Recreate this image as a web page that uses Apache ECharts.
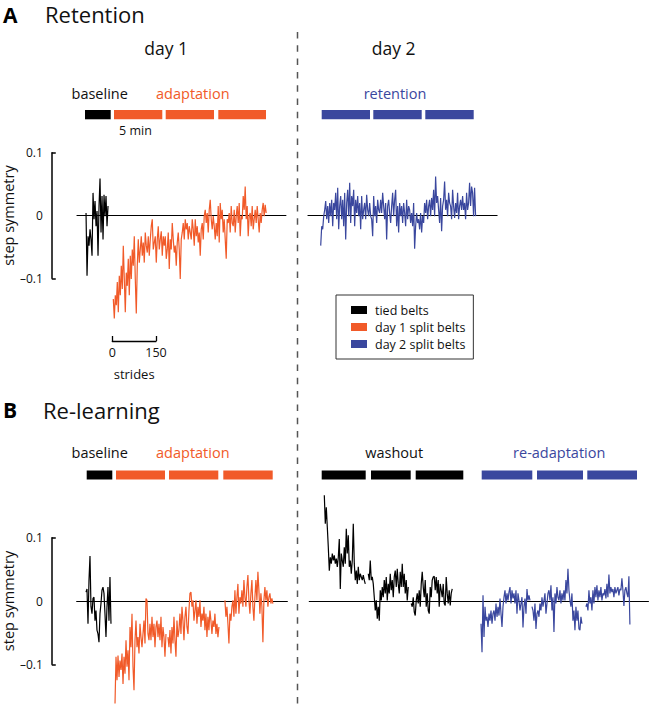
<!DOCTYPE html>
<html><head><meta charset="utf-8">
<script src="https://cdn.jsdelivr.net/npm/echarts@6/dist/echarts.min.js"></script>
<style>html,body{margin:0;padding:0;background:#fff}#c{width:650px;height:706px}</style>
</head><body><div id="c"></div>
<script>
// ---------------- DATA (step symmetry, one reading per ~3.43 strides) ----------------
const seriesNames = ['tied belts', 'day 1 split belts', 'day 2 split belts'];
const yTickLabels = [-0.1, 0, 0.1];
const strideBarTicks = [0, 150];

// Panel A, day 1
const aBaseline = [0.004,-0.096,-0.033,-0.048,-0.022,-0.038,-0.064,0.036,-0.006,0.023,-0.017,0.007,-0.064,0.015,0.059,-0.027,0.031,-0.038,0.033,-0.001,0.031,-0.017,0.015];
const aAdaptation = [
-0.133,-0.164,-0.127,-0.143,-0.106,-0.154,-0.096,-0.127,-0.080,-0.117,
-0.048,-0.101,-0.154,-0.091,-0.112,-0.069,-0.127,-0.064,-0.101,-0.054,
-0.080,-0.033,-0.101,-0.156,-0.080,-0.038,-0.075,-0.054,-0.033,-0.064,
-0.043,-0.075,-0.027,-0.048,-0.059,-0.033,-0.064,-0.038,-0.017,-0.006,
-0.054,-0.043,-0.033,-0.075,-0.038,-0.017,-0.054,-0.038,-0.025,-0.064,
-0.033,-0.048,-0.033,-0.069,-0.054,-0.027,-0.085,-0.038,-0.054,-0.012,
-0.038,-0.059,-0.048,-0.080,-0.043,-0.027,-0.054,-0.101,-0.038,-0.027,
-0.012,-0.038,-0.006,-0.022,-0.012,-0.038,-0.017,-0.027,-0.038,-0.006,
-0.022,-0.048,-0.006,-0.033,-0.017,-0.043,-0.027,-0.064,-0.022,-0.012,
-0.038,-0.001,0.009,-0.012,0.004,-0.027,0.009,0.025,-0.006,-0.022,
-0.001,-0.017,-0.038,-0.012,-0.033,0.015,-0.043,0.020,-0.006,0.009,
-0.027,-0.006,-0.038,-0.069,-0.006,-0.012,0.004,-0.027,0.015,-0.012,
-0.017,0.009,-0.027,-0.001,0.015,-0.012,0.020,-0.033,-0.001,-0.006,
0.031,0.009,0.046,-0.006,0.015,-0.033,-0.001,0.004,-0.017,0.015,
-0.022,-0.006,0.009,-0.012,0.015,-0.006,-0.027,0.004,-0.012,0.009,
0.020,-0.001,0.017,0.004];
// Panel A, day 2
const aRetention = [
-0.048,-0.017,-0.022,-0.001,0.009,0.023,-0.006,0.015,-0.012,0.020,
-0.001,0.025,-0.017,0.020,0.009,0.036,-0.006,0.044,-0.022,0.015,
0.031,-0.006,0.025,-0.017,0.036,-0.038,0.020,0.041,-0.001,0.052,
-0.012,0.031,0.015,0.041,-0.017,0.025,0.004,0.031,-0.001,0.020,
-0.022,0.031,-0.006,0.009,0.020,-0.006,0.033,0.009,-0.001,0.020,
-0.001,-0.006,-0.033,0.031,-0.001,0.015,-0.012,0.025,0.009,0.004,
0.025,0.004,0.036,0.015,-0.006,0.020,-0.038,0.015,0.025,0.004,
-0.012,0.015,0.036,-0.001,0.025,0.041,-0.017,0.015,-0.027,0.020,
-0.001,0.015,-0.012,0.020,0.004,-0.017,0.025,-0.006,0.015,0.009,
-0.012,0.004,-0.017,0.020,-0.053,-0.017,0.004,-0.012,-0.006,-0.022,
0.004,-0.027,-0.001,-0.012,0.020,0.004,0.025,-0.006,0.015,0.025,
-0.001,0.028,0.009,0.041,-0.001,0.062,0.020,0.031,0.009,-0.012,
0.028,-0.025,0.015,0.025,0.054,0.009,0.025,-0.001,0.036,0.020,
0.015,-0.006,0.041,0.015,-0.004,0.020,0.004,0.036,-0.006,0.015,
0.025,0.009,0.031,0.009,0.020,-0.006,0.036,0.009,0.020,0.052,
0.015,0.046,0.036,-0.001,0.044,-0.001];
// Panel B, day 1
const bBaseline = [0.014,0.019,-0.036,0.033,0.071,-0.009,-0.020,0.004,0.006,-0.031,-0.015,-0.046,-0.052,-0.065,-0.020,-0.004,0.017,0.022,0.012,-0.020,-0.057,-0.009,0.022,-0.031,0.038,-0.036];
const bAdaptation = [
-0.162,-0.088,-0.125,-0.086,-0.120,-0.094,-0.109,-0.083,-0.131,-0.088,
-0.115,-0.062,-0.104,-0.078,-0.125,-0.041,-0.073,-0.020,-0.104,-0.141,
-0.062,-0.031,-0.073,-0.057,-0.083,-0.036,-0.057,-0.073,-0.052,-0.031,
-0.067,0.004,0.001,-0.052,-0.062,-0.036,-0.062,-0.025,-0.057,-0.036,
-0.073,-0.041,-0.031,-0.057,-0.036,-0.062,-0.025,-0.073,-0.041,-0.057,
-0.088,-0.052,null,-0.057,-0.073,-0.046,-0.083,-0.041,-0.067,-0.025,
-0.062,-0.088,-0.031,-0.057,-0.046,-0.020,-0.052,-0.009,-0.031,-0.062,
-0.025,-0.009,-0.041,-0.052,-0.015,0.012,0.014,-0.009,0.001,-0.031,
-0.015,0.001,-0.036,-0.009,-0.025,0.001,-0.041,-0.020,-0.031,-0.009,
-0.046,-0.020,-0.057,-0.025,-0.046,-0.015,-0.031,-0.052,-0.031,-0.041,
-0.020,-0.052,-0.036,-0.057,-0.041,null,null,null,null,null,
0.001,-0.025,-0.009,-0.036,-0.067,-0.020,-0.031,-0.009,0.001,-0.025,
0.017,-0.020,0.006,0.027,-0.020,0.006,-0.004,0.017,-0.009,0.033,
0.006,-0.009,0.022,0.041,0.001,-0.020,0.012,0.033,-0.009,-0.031,
0.006,0.033,0.001,0.046,0.017,-0.020,0.012,-0.009,-0.065,0.001,
0.022,0.001,0.017,-0.009,0.006,0.012,-0.004,0.004,-0.004];
// Panel B, day 2
const bWashout = [
0.167,0.122,0.148,0.117,0.085,0.048,0.069,0.059,0.075,0.064,
0.072,0.059,0.067,0.054,0.069,0.098,0.019,0.075,0.064,0.054,
0.085,0.059,0.114,0.075,0.104,0.054,0.064,0.043,0.064,0.122,
0.059,0.033,0.048,0.027,0.054,0.033,0.043,0.038,0.033,0.041,
0.033,0.027,null,null,0.043,0.033,0.064,0.033,0.038,0.027,
0.006,-0.015,0.001,-0.028,-0.009,-0.031,0.017,0.001,0.022,0.006,
0.033,0.012,0.038,0.001,0.027,0.012,0.043,0.017,0.033,0.006,
0.038,0.048,0.022,0.051,0.027,0.012,0.046,0.022,0.059,0.022,
0.043,0.012,0.033,0.001,0.022,null,null,-0.004,-0.009,0.006,
-0.017,-0.023,0.001,0.012,-0.004,0.017,-0.009,0.027,0.046,0.022,
0.006,0.033,-0.009,0.012,-0.015,-0.020,0.022,0.006,0.033,0.038,
0.039,0.017,0.038,0.012,0.033,-0.009,0.027,0.017,0.006,0.027,
-0.004,-0.007,0.038,0.012,-0.004,0.017,-0.007,0.012,0.019];
const bReadaptation = [
-0.036,-0.081,0.009,-0.057,-0.009,-0.031,-0.025,-0.041,-0.020,-0.031,
-0.015,-0.036,-0.020,-0.015,-0.031,-0.004,-0.025,-0.009,-0.023,0.004,
-0.020,-0.041,-0.009,0.006,0.017,-0.004,0.012,0.001,0.014,0.022,
-0.004,0.017,0.004,0.012,-0.004,0.017,-0.020,0.012,0.001,-0.015,
-0.004,0.006,-0.042,-0.009,0.004,-0.020,0.019,0.001,0.009,0.001,
null,-0.009,-0.015,-0.031,-0.004,-0.044,-0.020,-0.015,-0.025,-0.004,
-0.015,0.006,-0.009,0.001,0.012,-0.020,-0.004,0.012,0.017,0.001,
0.025,-0.015,0.006,-0.049,0.012,-0.004,0.022,0.006,0.001,0.017,
-0.004,0.012,0.001,0.017,0.001,0.033,0.012,0.051,0.017,0.001,
-0.009,0.012,-0.031,-0.015,-0.046,-0.009,-0.031,-0.015,-0.044,-0.046,
-0.025,-0.036,null,null,null,-0.009,-0.004,-0.015,0.017,-0.004,
0.006,-0.015,0.017,-0.004,0.022,0.006,0.025,0.001,0.017,0.006,
0.022,0.001,0.012,0.009,0.019,0.004,0.027,0.006,0.042,0.012,
0.022,0.014,0.019,0.006,0.022,0.012,0.017,0.022,0.009,0.019,
0.017,0.036,0.017,-0.008,0.017,0.022,0.012,0.006,0.039,-0.037];
// stride at which each recorded epoch starts on its panel's stride axis
const aDay1Starts = [31, 124.6];
const aDay2Starts = [43.6];
const bDay1Starts = [31.9, 131.5];
const bDay2Starts = [51.5, 589.4];

// ---------------- LAYOUT / STYLE ----------------
const FONT = '"Open Sans", Lato, sans-serif';
const ORANGE = '#F15A29', BLUE = '#3A479E', BLACK = '#000';
const PX_PER_STRIDE = 43.7 / 150;
const SAMPLE_STRIDES = 3.43;
function pts(values, start) { return values.map((v, i) => [start + i * SAMPLE_STRIDES, v]); }

const A = {zero: 215.5, ppu: 628, min: -0.18, max: 0.1};
const B = {zero: 601, ppu: 633, min: -0.165, max: 0.175};
function gridFor(p, left, xmax) {
  return {left: left, top: p.zero - p.max * p.ppu, width: xmax * PX_PER_STRIDE,
          height: (p.max - p.min) * p.ppu, containLabel: false};
}
const panels = [
  {g: gridFor(A, 77, 717), xmax: 717, p: A},
  {g: gridFor(A, 308, 649), xmax: 649, p: A},
  {g: gridFor(B, 76.7, 723), xmax: 723, p: B},
  {g: gridFor(B, 309.3, 1164), xmax: 1164, p: B}
];

const grids = panels.map(o => o.g);
const xAxes = panels.map((o, i) => ({
  type: 'value', gridIndex: i, min: 0, max: o.xmax,
  axisLine: {show: true, onZero: true, lineStyle: {color: '#000', width: 1.2}},
  axisTick: {show: false}, axisLabel: {show: false}, splitLine: {show: false}
}));
const yAxes = panels.map((o, i) => ({
  type: 'value', gridIndex: i, min: o.p.min, max: o.p.max, show: false, splitLine: {show: false}
}));

function bracket(p, idx, gap) {
  grids.push({left: 50.5, top: p.zero - 0.1 * p.ppu, width: 10, height: 0.2 * p.ppu});
  xAxes.push({type: 'value', gridIndex: idx, show: false});
  yAxes.push({
    type: 'value', gridIndex: idx, min: -0.1, max: 0.1, interval: 0.1,
    name: 'step symmetry', nameLocation: 'middle', nameGap: gap, nameRotate: 90,
    nameTextStyle: {fontFamily: FONT, fontSize: 14.5, color: '#111'},
    axisLine: {show: true, lineStyle: {color: '#000', width: 1.5}},
    axisTick: {show: true, inside: true, length: 4, customValues: [-0.1, 0.1], lineStyle: {color: '#000', width: 1.5}},
    axisLabel: {show: true, customValues: yTickLabels, margin: 9, fontFamily: FONT, fontSize: 12, color: '#111',
      formatter: v => v === 0 ? '0' : (v < 0 ? '\u2013' + Math.abs(v).toFixed(1) : v.toFixed(1))},
    splitLine: {show: false}
  });
}
bracket(A, 4, 33);
bracket(B, 5, 33);

grids.push({left: 112.3, top: 300, width: 150 * PX_PER_STRIDE, height: 41});
xAxes.push({
  type: 'value', gridIndex: 6, min: strideBarTicks[0], max: strideBarTicks[1], interval: 150,
  position: 'bottom', name: 'strides', nameLocation: 'middle', nameGap: 26,
  nameTextStyle: {fontFamily: FONT, fontSize: 13, color: '#111'},
  axisLine: {show: true, onZero: false, lineStyle: {color: '#000', width: 1.3}},
  axisTick: {show: true, inside: true, length: 5, lineStyle: {color: '#000', width: 1.3}},
  axisLabel: {show: true, margin: 5, fontFamily: FONT, fontSize: 12.5, color: '#111'},
  splitLine: {show: false}
});
yAxes.push({type: 'value', gridIndex: 6, min: 0, max: 1, show: false});

function line(name, color, gi, data) {
  return {
    type: 'line', name: name, xAxisIndex: gi, yAxisIndex: gi, data: data,
    showSymbol: false, symbol: 'none', clip: false, connectNulls: false,
    color: color, lineStyle: {color: color, width: 1.2}, animation: false, silent: true
  };
}
const series = [
  line(seriesNames[0], BLACK, 0, pts(aBaseline, aDay1Starts[0])),
  line(seriesNames[1], ORANGE, 0, pts(aAdaptation, aDay1Starts[1])),
  line(seriesNames[2], BLUE, 1, pts(aRetention, aDay2Starts[0])),
  line(seriesNames[0], BLACK, 2, pts(bBaseline, bDay1Starts[0])),
  line(seriesNames[1], ORANGE, 2, pts(bAdaptation, bDay1Starts[1])),
  line(seriesNames[0], BLACK, 3, pts(bWashout, bDay2Starts[0])),
  line(seriesNames[2], BLUE, 3, pts(bReadaptation, bDay2Starts[1]))
];

function txt(x, y, s, size, color, weight, align) {
  return {type: 'text', x: x, y: y, silent: true,
    style: {text: s, fill: color || '#111', font: (weight || 'normal') + ' ' + size + 'px ' + FONT,
      align: align || 'center', verticalAlign: 'middle', textAlign: align || 'center', textVerticalAlign: 'middle'}};
}
function bar(x, y, w, h, color) {
  return {type: 'rect', silent: true, shape: {x: x, y: y, width: w, height: h}, style: {fill: color}};
}
const graphic = [
  {type: 'line', silent: true, shape: {x1: 297.5, y1: 32, x2: 297.5, y2: 706},
   style: {stroke: '#555', lineWidth: 1.5, lineDash: [6.5, 6.8]}},
  txt(3, 14.5, 'A', 21, '#000', 'bold', 'left'),
  txt(45, 14, 'Retention', 22, '#111', 'normal', 'left'),
  txt(166.2, 48.2, 'day 1', 17.5),
  txt(393.7, 48.2, 'day 2', 17.5),
  txt(99.7, 93.3, 'baseline', 14.5),
  txt(192.8, 93.3, 'adaptation', 14.5, ORANGE),
  txt(395, 93.3, 'retention', 14.5, BLUE),
  txt(135.5, 130.1, '5 min', 12.5),
  bar(85, 110, 25.7, 9.3, BLACK),
  bar(114, 110, 48.3, 9.3, ORANGE), bar(165.7, 110, 48.3, 9.3, ORANGE), bar(218.3, 110, 47.7, 9.3, ORANGE),
  bar(321.7, 110, 48.3, 9.3, BLUE), bar(373.3, 110, 48.4, 9.3, BLUE), bar(425.3, 110, 48.4, 9.3, BLUE),
  txt(3, 410, 'B', 21, '#000', 'bold', 'left'),
  txt(43, 409.5, 'Re-learning', 22, '#111', 'normal', 'left'),
  txt(99.7, 452, 'baseline', 14.5),
  txt(192.8, 452, 'adaptation', 14.5, ORANGE),
  txt(394.2, 452, 'washout', 14.5),
  txt(559.2, 452, 're-adaptation', 14.5, BLUE),
  bar(86.7, 470.5, 25.6, 9, BLACK),
  bar(116, 470.5, 49, 9, ORANGE), bar(169, 470.5, 49.3, 9, ORANGE), bar(223.3, 470.5, 49.4, 9, ORANGE),
  bar(321.7, 470.5, 44, 9, BLACK), bar(371, 470.5, 39.7, 9, BLACK), bar(415.7, 470.5, 47.6, 9, BLACK),
  bar(481.7, 470.5, 50.6, 9, BLUE), bar(537, 470.5, 46, 9, BLUE), bar(587.3, 470.5, 49.7, 9, BLUE)
];

const chart = echarts.init(document.getElementById('c'), null, {renderer: 'svg', width: 650, height: 706});
chart.setOption({
  animation: false,
  backgroundColor: '#fff',
  grid: grids, xAxis: xAxes, yAxis: yAxes, series: series, graphic: graphic,
  legend: {
    data: seriesNames, orient: 'vertical', left: 336, top: 295,
    icon: 'rect', itemWidth: 16, itemHeight: 8, itemGap: 3,
    padding: [8, 8, 8, 15], borderColor: '#333', borderWidth: 1, borderRadius: 0,
    selectedMode: false,
    textStyle: {fontFamily: FONT, fontSize: 12.5, lineHeight: 14, color: '#111', padding: [0, 0, 0, 3]}
  }
});
</script></body></html>
